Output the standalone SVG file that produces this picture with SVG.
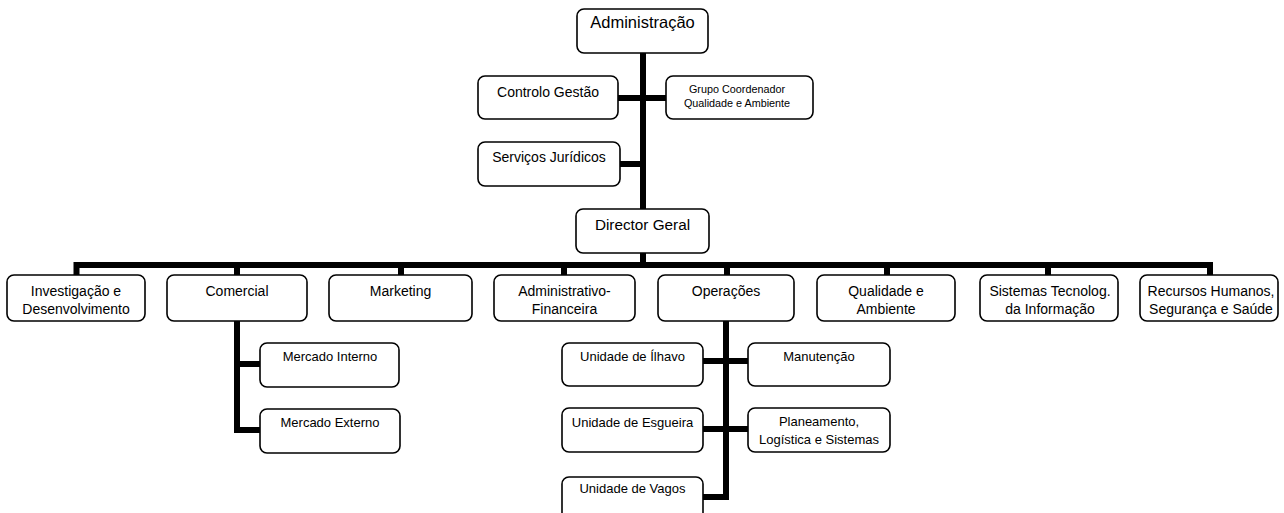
<svg xmlns="http://www.w3.org/2000/svg" width="1284" height="513" viewBox="0 0 1284 513">
<style>
.box{fill:#fff;stroke:#000;stroke-width:1.6}
.t{font-family:"Liberation Sans",Arial,sans-serif;fill:#000;text-anchor:middle}
.f16{font-size:16.5px}
.f15{font-size:15.3px}
.f14{font-size:14px}
.f13{font-size:13px}
.f11{font-size:10.8px}
.c{fill:none;stroke:#000;stroke-width:6;stroke-linejoin:miter;stroke-linecap:butt}
</style>
<rect width="1284" height="513" fill="#fff"/>
<g id="connectors">
<path class="c" d="M643,53 V265"/>
<path class="c" d="M618,98 H666"/>
<path class="c" d="M620,164 H643"/>
<path class="c" d="M76.5,275 V265 H1210 V275"/>
<path class="c" d="M237,265 V275"/>
<path class="c" d="M401,265 V275"/>
<path class="c" d="M564,265 V275"/>
<path class="c" d="M727,265 V275"/>
<path class="c" d="M887,265 V275"/>
<path class="c" d="M1048,265 V275"/>
<path class="c" d="M237,321 V430 H260"/>
<path class="c" d="M237,364 H260"/>
<path class="c" d="M726,321 V497 H703"/>
<path class="c" d="M703,361 H748"/>
<path class="c" d="M703,429 H748"/>
</g>
<g id="administracao"><rect class="box" x="577" y="9" width="131" height="44" rx="7"/><text class="t f16" x="642.5" y="28">Administração</text></g>
<g id="controlo-gestao"><rect class="box" x="478" y="76" width="140" height="43" rx="7"/><text class="t f14" x="548" y="97">Controlo Gestão</text></g>
<g id="grupo-coordenador"><rect class="box" x="666" y="76" width="147" height="43" rx="7"/><text class="t f11" x="737" y="93">Grupo Coordenador</text><text class="t f11" x="737" y="107">Qualidade e Ambiente</text></g>
<g id="servicos-juridicos"><rect class="box" x="478" y="142" width="142" height="44" rx="7"/><text class="t f14" x="549" y="162">Serviços Jurídicos</text></g>
<g id="director-geral"><rect class="box" x="576" y="209" width="133" height="44" rx="7"/><text class="t f15" x="642.5" y="230">Director Geral</text></g>
<g id="investigacao"><rect class="box" x="7" y="275" width="138" height="46" rx="7"/><text class="t f14" x="76" y="296">Investigação e</text><text class="t f14" x="76" y="314">Desenvolvimento</text></g>
<g id="comercial"><rect class="box" x="167" y="275" width="140" height="46" rx="7"/><text class="t f14" x="237" y="296">Comercial</text></g>
<g id="marketing"><rect class="box" x="329" y="275" width="143" height="46" rx="7"/><text class="t f14" x="400.5" y="296">Marketing</text></g>
<g id="administrativo-financeira"><rect class="box" x="494" y="275" width="141" height="46" rx="7"/><text class="t f14" x="564.5" y="296">Administrativo-</text><text class="t f14" x="564.5" y="314">Financeira</text></g>
<g id="operacoes"><rect class="box" x="658" y="275" width="136" height="46" rx="7"/><text class="t f14" x="726" y="296">Operações</text></g>
<g id="qualidade-ambiente"><rect class="box" x="817" y="275" width="138" height="46" rx="7"/><text class="t f14" x="886" y="296">Qualidade e</text><text class="t f14" x="886" y="314">Ambiente</text></g>
<g id="sistemas-ti"><rect class="box" x="980" y="275" width="138" height="46" rx="7"/><text class="t f14" x="1050" y="296">Sistemas Tecnolog.</text><text class="t f14" x="1050" y="314">da Informação</text></g>
<g id="recursos-humanos"><rect class="box" x="1140" y="275" width="138" height="46" rx="7"/><text class="t f14" x="1211" y="296">Recursos Humanos,</text><text class="t f14" x="1211" y="314">Segurança e Saúde</text></g>
<g id="mercado-interno"><rect class="box" x="260" y="343" width="139" height="44" rx="7"/><text class="t f13" x="330" y="361">Mercado Interno</text></g>
<g id="mercado-externo"><rect class="box" x="260" y="409" width="140" height="44" rx="7"/><text class="t f13" x="330" y="427">Mercado Externo</text></g>
<g id="unidade-ilhavo"><rect class="box" x="562" y="343" width="141" height="43" rx="7"/><text class="t f13" x="632.5" y="361">Unidade de Ílhavo</text></g>
<g id="manutencao"><rect class="box" x="748" y="343" width="142" height="43" rx="7"/><text class="t f13" x="819" y="361">Manutenção</text></g>
<g id="unidade-esgueira"><rect class="box" x="562" y="408" width="141" height="44" rx="7"/><text class="t f13" x="632.5" y="427">Unidade de Esgueira</text></g>
<g id="planeamento"><rect class="box" x="748" y="408" width="142" height="44" rx="7"/><text class="t f13" x="819" y="426">Planeamento,</text><text class="t f13" x="819" y="444">Logística e Sistemas</text></g>
<g id="unidade-vagos"><rect class="box" x="562" y="477" width="141" height="44" rx="7"/><text class="t f13" x="632.5" y="493">Unidade de Vagos</text></g>
</svg>
